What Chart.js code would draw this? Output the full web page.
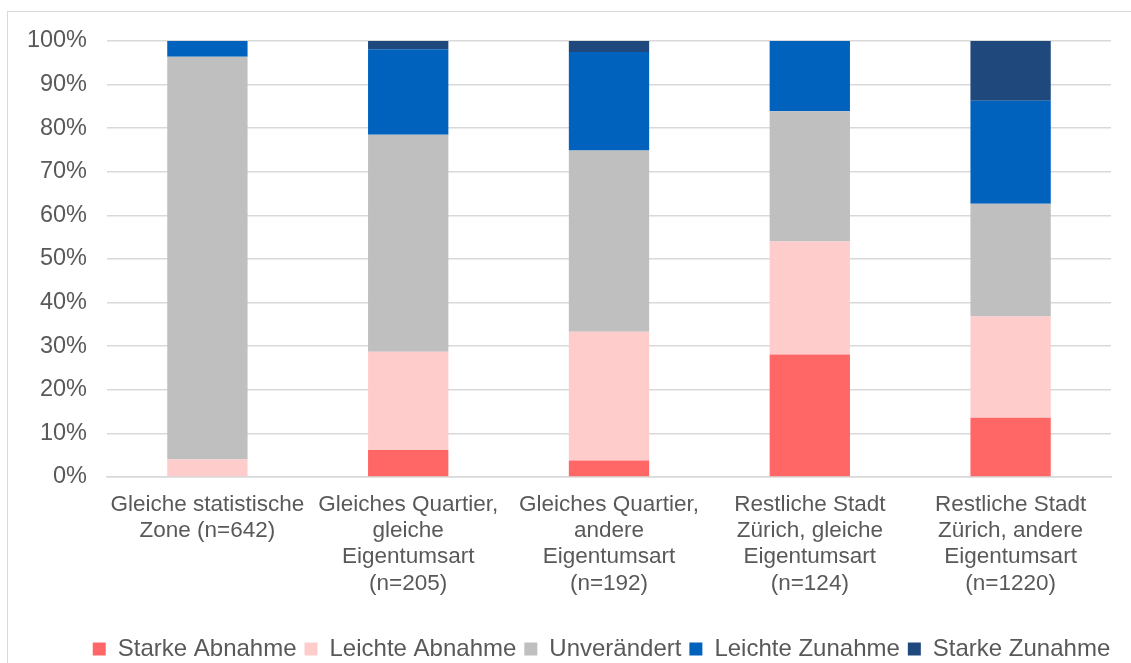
<!DOCTYPE html>
<html>
<head>
<meta charset="utf-8">
<script src="https://cdn.jsdelivr.net/npm/chart.js@4.4.1/dist/chart.umd.min.js"></script>
<style>
  html, body { margin: 0; padding: 0; background: #fff; overflow: hidden; }
  .frame { position: absolute; left: 7px; top: 11px; width: 1200px; height: 700px; border: 1.5px solid #d9d9d9; }
  .wrap { position: absolute; left: 0; top: 0; width: 1131px; height: 663px; }
</style>
</head>
<body>
<div class="frame"></div>
<div class="wrap"><canvas id="chart"></canvas></div>
<script>
// categories (multi-line labels as drawn under the bars)
const categories = [
    ['Gleiche statistische', 'Zone (n=642)'],
    ['Gleiches Quartier,', 'gleiche', 'Eigentumsart', '(n=205)'],
    ['Gleiches Quartier,', 'andere', 'Eigentumsart', '(n=192)'],
    ['Restliche Stadt', 'Zürich, gleiche', 'Eigentumsart', '(n=124)'],
    ['Restliche Stadt', 'Zürich, andere', 'Eigentumsart', '(n=1220)']
];

// shares in percent
const starkeAbnahme  = [0.0, 6.2, 3.8, 28.1, 13.6];
const leichteAbnahme = [4.0, 22.5, 29.5, 25.9, 23.2];
const unveraendert   = [92.4, 49.8, 41.6, 29.9, 25.9];
const leichteZunahme = [3.6, 19.6, 22.6, 16.1, 23.6];
const starkeZunahme  = [0.0, 1.9, 2.5, 0.0, 13.7];

const yTicks = [0, 10, 20, 30, 40, 50, 60, 70, 80, 90, 100];

const textColor = '#595959';
const gridColor = '#d9d9d9';
const fontFamily = '"Liberation Sans", Arial, sans-serif';

// the legend sits a bit right of the canvas centre in the original
const legendShift = {
    id: 'legendShift',
    afterLayout(chart) {
        chart.legend.left += 36;
        chart.legend.right += 36;
    }
};

const ctx = document.getElementById('chart').getContext('2d');

new Chart(ctx, {
    type: 'bar',
    data: {
        labels: categories,
        datasets: [
            { label: 'Starke Abnahme', data: starkeAbnahme, backgroundColor: '#ff6666' },
            { label: 'Leichte Abnahme', data: leichteAbnahme, backgroundColor: '#ffcccc' },
            { label: 'Unverändert', data: unveraendert, backgroundColor: '#bfbfbf' },
            { label: 'Leichte Zunahme', data: leichteZunahme, backgroundColor: '#0062bd' },
            { label: 'Starke Zunahme', data: starkeZunahme, backgroundColor: '#1f497d' }
        ]
    },
    plugins: [legendShift],
    options: {
        responsive: true,
        maintainAspectRatio: false,
        animation: false,
        datasets: {
            bar: { categoryPercentage: 0.4, barPercentage: 1.0 }
        },
        layout: {
            padding: { left: 20, right: 20, top: 41, bottom: -8 }
        },
        plugins: {
            tooltip: { enabled: false },
            legend: {
                position: 'bottom',
                labels: {
                    color: textColor,
                    font: { family: fontFamily, size: 24 },
                    boxWidth: 13,
                    boxHeight: 13,
                    padding: 8
                }
            }
        },
        scales: {
            x: {
                stacked: true,
                grid: { display: false, drawTicks: false },
                border: { display: true, color: gridColor, width: 1.5 },
                ticks: {
                    color: textColor,
                    font: { family: fontFamily, size: 22.5, lineHeight: 1.16 },
                    padding: 15,
                    maxRotation: 0,
                    autoSkip: false
                },
                afterFit: (scale) => { scale.height = 152; }
            },
            y: {
                stacked: true,
                min: 0,
                max: 100,
                afterBuildTicks: (scale) => { scale.ticks = yTicks.map(v => ({ value: v })); },
                grid: { color: gridColor, lineWidth: 1.5, drawTicks: false },
                border: { display: false },
                ticks: {
                    color: textColor,
                    font: { family: fontFamily, size: 23.5 },
                    padding: 20,
                    callback: (v) => v + '%'
                },
                afterFit: (scale) => { scale.width = 87; }
            }
        }
    }
});
</script>
</body>
</html>
